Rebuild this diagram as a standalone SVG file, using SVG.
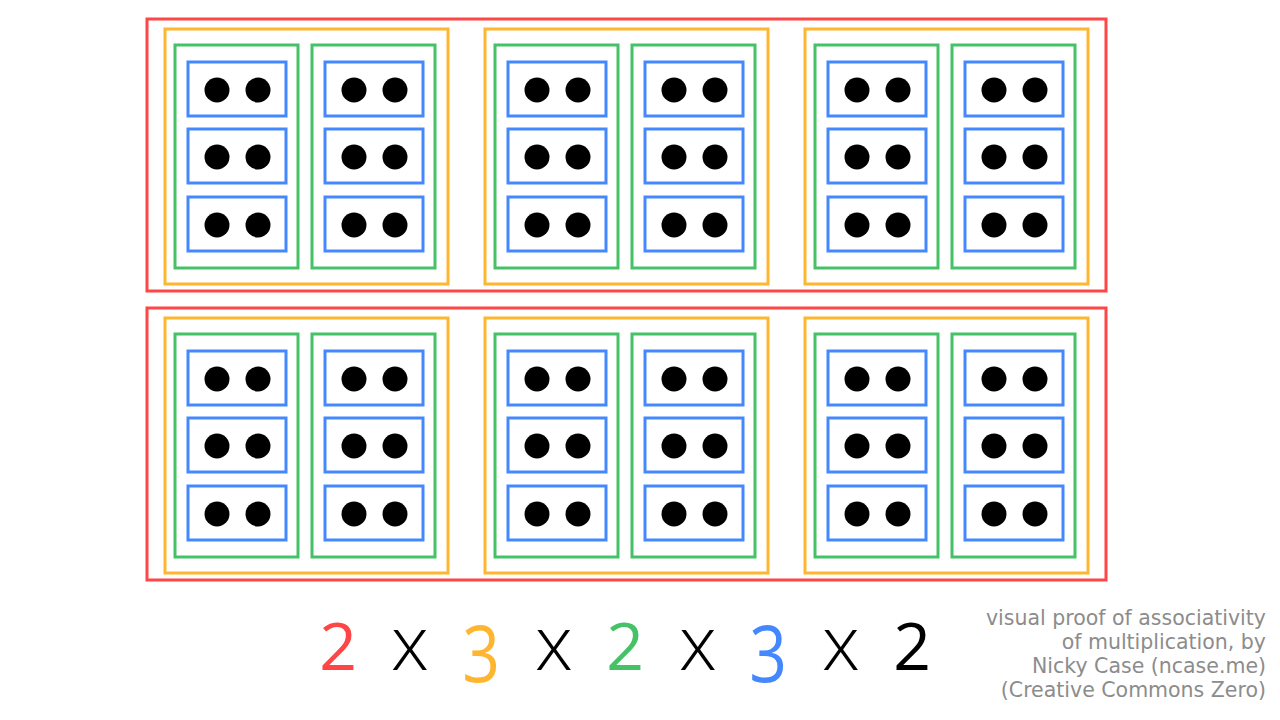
<svg xmlns="http://www.w3.org/2000/svg" width="1280" height="720" viewBox="0 0 1280 720">
<style>
.r{fill:none;stroke:#ff4545;stroke-width:3}
.o{fill:none;stroke:#ffb62e;stroke-width:3}
.g{fill:none;stroke:#44c266;stroke-width:3}
.b{fill:none;stroke:#4488ff;stroke-width:3}
.d{fill:#000}
.num{font-family:"Open Sans","Noto Sans",sans-serif;font-size:66px;text-anchor:middle}
.x{font-family:"Open Sans","Noto Sans",sans-serif;font-weight:300;font-size:76px;text-anchor:middle;fill:#000}
.cap{font-family:"DejaVu Sans","Liberation Sans",sans-serif;font-size:20.5px;fill:#8c8c8c;text-anchor:end}
</style>
<defs>
<g id="cell">
<rect class="b" x="0" y="0" width="98" height="54"/>
<circle class="d" cx="29" cy="28" r="12.5"/>
<circle class="d" cx="70" cy="28" r="12.5"/>
</g>
<g id="col">
<rect class="g" x="0" y="0" width="123" height="223"/>
<use href="#cell" x="13" y="17"/>
<use href="#cell" x="13" y="84"/>
<use href="#cell" x="13" y="152"/>
</g>
<g id="grp">
<rect class="o" x="0" y="0" width="283" height="255"/>
<use href="#col" x="10" y="16"/>
<use href="#col" x="147" y="16"/>
</g>
</defs>
<g id="row1">
<rect class="r" x="147" y="19" width="959" height="272"/>
<g id="row1-g1"><use href="#grp" x="165" y="29"/></g>
<g id="row1-g2"><use href="#grp" x="485" y="29"/></g>
<g id="row1-g3"><use href="#grp" x="805" y="29"/></g>
</g>
<g id="row2">
<rect class="r" x="147" y="308" width="959" height="272"/>
<g id="row2-g1"><use href="#grp" x="165" y="318"/></g>
<g id="row2-g2"><use href="#grp" x="485" y="318"/></g>
<g id="row2-g3"><use href="#grp" x="805" y="318"/></g>
</g>
<g id="connectors"></g>
<g id="formula">
<text class="num" x="338" y="670" fill="#ff4545">2</text>
<text class="x" x="410" y="670">x</text>
<text class="num" transform="translate(481,682) scale(1,1.2)" fill="#ffb62e">3</text>
<text class="x" x="554" y="670">x</text>
<text class="num" x="625" y="670" fill="#44c266">2</text>
<text class="x" x="698" y="670">x</text>
<text class="num" transform="translate(768,682) scale(1,1.2)" fill="#4488ff">3</text>
<text class="x" x="841" y="670">x</text>
<text class="num" x="912" y="670" fill="#000">2</text>
</g>
<g id="caption">
<text class="cap" x="1266" y="625">visual proof of associativity</text>
<text class="cap" x="1266" y="649">of multiplication, by</text>
<text class="cap" x="1266" y="673">Nicky Case (ncase.me)</text>
<text class="cap" x="1266" y="697">(Creative Commons Zero)</text>
</g>
</svg>
